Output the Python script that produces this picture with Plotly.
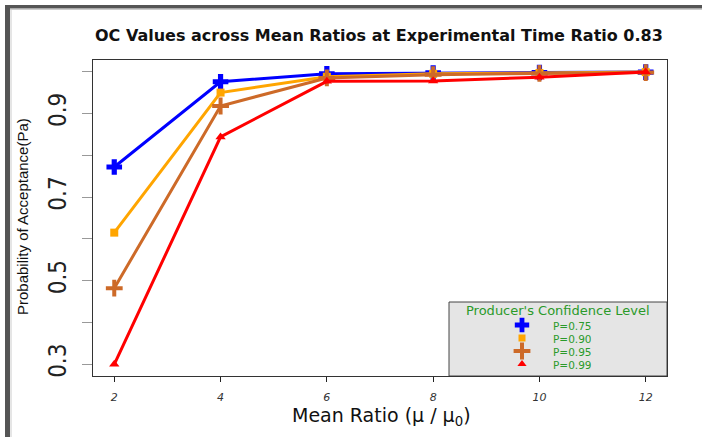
import plotly.graph_objects as go

# ---------------- data ----------------
mean_ratio = [2, 4, 6, 8, 10, 12]
pa_p075 = [0.772, 0.976, 0.995, 0.997, 0.998, 0.999]
pa_p090 = [0.615, 0.950, 0.988, 0.995, 0.997, 0.999]
pa_p095 = [0.482, 0.918, 0.985, 0.993, 0.996, 0.998]
pa_p099 = [0.300, 0.844, 0.977, 0.978, 0.987, 0.999]
series_labels = ["P=0.75", "P=0.90", "P=0.95", "P=0.99"]
x_tickvals = [2, 4, 6, 8, 10, 12]
y_tickvals = [0.3, 0.5, 0.7, 0.9]
y_ticktext = ["0.3", "0.5", "0.7", "0.9"]
y_minor_tickvals = [0.4, 0.6, 0.8, 1.0]

title_text = "OC Values across Mean Ratios at Experimental Time Ratio 0.83"
legend_title = "Producer's Confidence Level"

# ---------------- style ----------------
W, H = 702, 437
L, R, T, B = 93, 35, 60, 61
colors = ["#0000FF", "#FFA500", "#CD6A28", "#FF0000"]
symbols = ["cross", "square", "cross-thin", "triangle-up"]
sizes = [13, 8, 12, 9]
leg_sizes = [12, 7, 12, 8]
green = "#2a9a2a"

PW, PH = W - L - R, H - T - B


def fx(px):
    return (px - L) / PW


def fy(py):
    return (H - B - py) / PH


series = [pa_p075, pa_p090, pa_p095, pa_p099]

fig = go.Figure()
for vals, lab, c, s, sz in zip(series, series_labels, colors, symbols, sizes):
    mk = dict(color=c, symbol=s, size=sz)
    if s == "cross-thin":
        mk["line"] = dict(color=c, width=4)
    fig.add_trace(go.Scatter(
        x=mean_ratio, y=vals, mode="lines+markers", name=lab,
        line=dict(color=c, width=3), marker=mk, showlegend=False,
        cliponaxis=False,
    ))

# custom legend box
lx0, lx1, ly0, ly1 = 449, W - R, 302, H - B
shapes = [
    dict(type="rect", xref="paper", yref="paper",
         x0=fx(lx0), x1=fx(lx1), y0=fy(ly1), y1=fy(ly0),
         fillcolor="#e5e5e5", line=dict(color="#444444", width=1), layer="below"),
    # outer frame (dark bars at top and left)
    dict(type="rect", xref="paper", yref="paper",
         x0=fx(5), x1=fx(10), y0=fy(H + 2), y1=fy(5),
         fillcolor="#555555", line=dict(width=0)),
    dict(type="rect", xref="paper", yref="paper",
         x0=fx(5), x1=fx(W + 2), y0=fy(8.5), y1=fy(5),
         fillcolor="#555555", line=dict(width=0)),
    dict(type="line", xref="paper", yref="paper",
         x0=fx(11), x1=fx(11), y0=fy(H + 2), y1=fy(9),
         line=dict(color="#cccccc", width=1)),
    dict(type="line", xref="paper", yref="paper",
         x0=fx(10), x1=fx(W + 2), y0=fy(9.5), y1=fy(9.5),
         line=dict(color="#cccccc", width=1)),
]

row_y = [325, 338, 351, 364]
annotations = [
    dict(text=title_text, xref="paper", yref="paper", x=fx(379), y=fy(35),
         showarrow=False, xanchor="center", yanchor="middle",
         font=dict(family="DejaVu Sans", size=16, color="#111111", weight="bold")),
    dict(text="Probability of Acceptance(Pa)", xref="paper", yref="paper",
         x=fx(22), y=fy(217), textangle=-90, showarrow=False,
         xanchor="center", yanchor="middle",
         font=dict(family="Liberation Sans", size=15, color="#111111")),
    dict(text="Mean Ratio (μ / μ<sub>0</sub>)", xref="paper", yref="paper",
         x=fx(381), y=fy(416), showarrow=False, xanchor="center", yanchor="middle",
         font=dict(family="DejaVu Sans", size=19, color="#111111")),
    dict(text=legend_title, xref="paper", yref="paper", x=fx(558), y=fy(310),
         showarrow=False, xanchor="center", yanchor="middle", borderpad=0, height=14,
         font=dict(family="DejaVu Sans", size=13, color=green)),
]
for lab, ry in zip(series_labels, row_y):
    annotations.append(dict(text=lab, xref="paper", yref="paper", x=fx(552), y=fy(ry),
                            showarrow=False, xanchor="left", yanchor="middle",
                            borderpad=0, height=11,
                            font=dict(family="DejaVu Sans", size=10.5, color=green)))

# legend glyphs on an overlay axis spanning the plot area in paper fractions
for lab, c, s, sz, ry in zip(series_labels, colors, symbols, leg_sizes, row_y):
    mk = dict(color=c, symbol=s, size=sz)
    if s == "cross-thin":
        mk["line"] = dict(color=c, width=4)
    fig.add_trace(go.Scatter(
        x=[fx(522)], y=[fy(ry)], xaxis="x2", yaxis="y2", mode="markers",
        marker=mk, showlegend=False, hoverinfo="skip", cliponaxis=False,
    ))

fig.update_layout(
    width=W, height=H,
    margin=dict(l=L, r=R, t=T, b=B, pad=0),
    paper_bgcolor="white", plot_bgcolor="rgba(0,0,0,0)",
    showlegend=False,
    shapes=shapes, annotations=annotations,
    xaxis=dict(range=[1.6, 12.4], tickvals=x_tickvals, showgrid=False, zeroline=False,
               showline=True, mirror=True, linecolor="#333333", linewidth=1,
               ticks="outside", ticklen=5, tickcolor="#222222",
               tickfont=dict(family="DejaVu Sans", size=11, color="#333333", style="italic"),
               ticklabelstandoff=6),
    yaxis=dict(range=[0.272, 1.028], tickvals=y_tickvals, ticktext=y_ticktext,
               showgrid=False, zeroline=False,
               showline=True, mirror=True, linecolor="#333333", linewidth=1,
               ticks="outside", ticklen=10, tickcolor="#999999", tickangle=-90,
               minor=dict(tickmode="array", tickvals=y_minor_tickvals, ticks="outside",
                          ticklen=10, tickcolor="#999999", showgrid=False),
               tickfont=dict(family="Liberation Sans Narrow, DejaVu Sans Condensed, Liberation Sans",
                             size=24, color="#222222"),
               ticklabelstandoff=6),
    xaxis2=dict(overlaying="x", range=[0, 1], domain=[0, 1], visible=False, fixedrange=True),
    yaxis2=dict(overlaying="y", range=[0, 1], domain=[0, 1], visible=False, fixedrange=True),
)

fig.write_html("out.html", config={"displayModeBar": False},
               post_script="document.body.style.margin='0';document.body.style.overflow='hidden';")
